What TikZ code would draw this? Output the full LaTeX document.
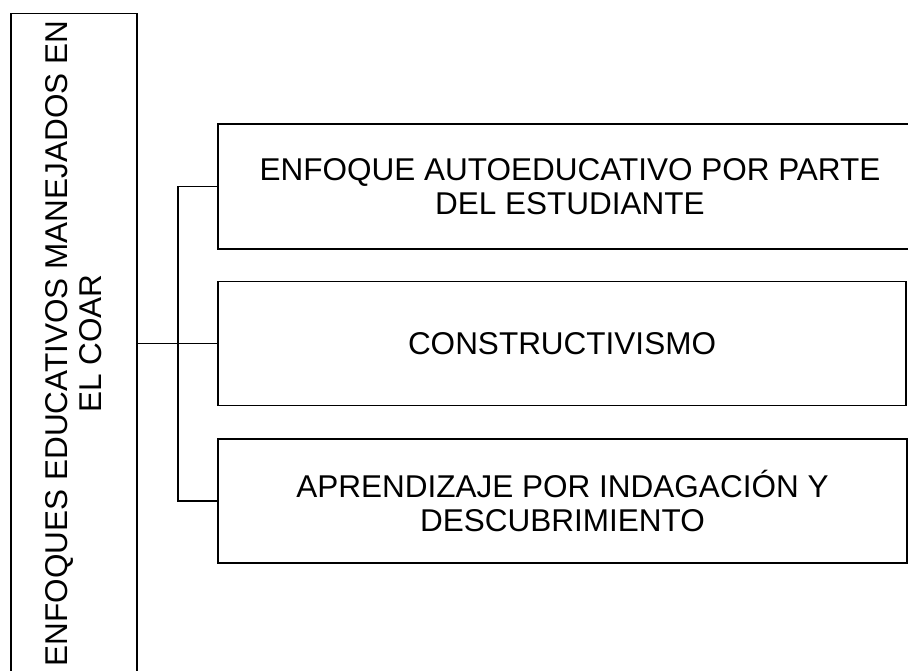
\documentclass[tikz,border=0pt]{standalone}
\usepackage{fontspec}
\setmainfont{Liberation Sans}

\begin{document}
\begin{tikzpicture}[x=1pt,y=-1pt,every node/.style={align=center,font=\fontsize{31.5}{34}\selectfont},
box/.style={draw,line width=1.5pt,rectangle,inner sep=0pt},
link/.style={line width=1.5pt}]
%================================================================
%	Frame
\clip (0,0) rectangle (908,671);

%================================================================
%	Nodes
\node[style=box,rotate=90,minimum width=660,minimum height=126] (coar) at (74,343.5) {ENFOQUES EDUCATIVOS MANEJADOS EN\\EL COAR};
%----------------------------------------------------------------
\node[style=box,minimum width=704,minimum height=125] (b1) at (570,186.5) {ENFOQUE AUTOEDUCATIVO POR PARTE\\DEL ESTUDIANTE};
\node[style=box,minimum width=688,minimum height=124] (b2) at (562,343.5) {CONSTRUCTIVISMO};
\node[style=box,minimum width=689,minimum height=124] (b3) at (562.5,501) {APRENDIZAJE POR INDAGACIÓN Y\\DESCUBRIMIENTO};
%----------------------------------------------------------------
\coordinate (bus) at (178,343.5);

%================================================================
%	Lines
\draw[style=link] (coar.south) -- (b2.west);
\draw[style=link] (b1.west) -| (bus) |- (b3.west);
%================================================================
\end{tikzpicture}
\end{document}
